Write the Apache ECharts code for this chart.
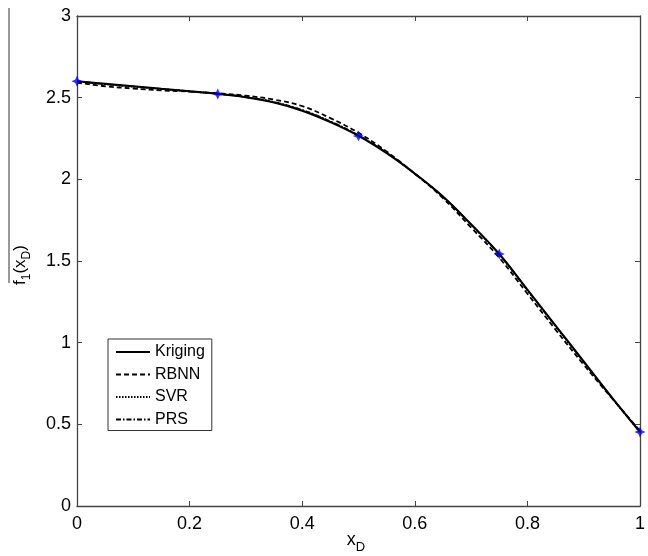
<!DOCTYPE html>
<html>
<head>
<meta charset="utf-8">
<script src="https://cdn.jsdelivr.net/npm/echarts@6/dist/echarts.min.js"></script>
<style>
html,body{margin:0;padding:0;background:#fff;}
#chart{width:648px;height:556px;}
</style>
</head>
<body>
<div id="chart"></div>
<script>
var xs      = [0, 0.05, 0.1, 0.15, 0.2, 0.25, 0.3, 0.35, 0.4, 0.45, 0.5, 0.55, 0.6, 0.65, 0.7, 0.75, 0.8, 0.85, 0.9, 0.95, 1.0];
var kriging = [2.60, 2.585, 2.57, 2.555, 2.54, 2.523, 2.502, 2.47, 2.42, 2.35, 2.266, 2.16, 2.035, 1.895, 1.725, 1.543, 1.325, 1.105, 0.885, 0.665, 0.453];
var rbnn    = [2.592, 2.57, 2.556, 2.545, 2.537, 2.527, 2.512, 2.488, 2.448, 2.375, 2.285, 2.17, 2.035, 1.885, 1.705, 1.52, 1.30, 1.08, 0.865, 0.66, 0.46];
var svr     = [2.60, 2.582, 2.567, 2.553, 2.538, 2.523, 2.503, 2.472, 2.424, 2.354, 2.268, 2.162, 2.034, 1.892, 1.722, 1.54, 1.32, 1.10, 0.88, 0.662, 0.453];
var prs     = [2.60, 2.583, 2.568, 2.554, 2.539, 2.524, 2.504, 2.473, 2.425, 2.355, 2.27, 2.163, 2.035, 1.893, 1.722, 1.54, 1.322, 1.102, 0.882, 0.663, 0.453];
var sampleX = [0, 0.25, 0.5, 0.75, 1.0];
var sampleY = [2.60, 2.523, 2.266, 1.543, 0.453];
var xTicks  = [0, 0.2, 0.4, 0.6, 0.8, 1];
var yTicks  = [0, 0.5, 1, 1.5, 2, 2.5, 3];

function pairs(x, y){ return x.map(function(v,i){ return [v, y[i]]; }); }

var FONT = 'Liberation Sans, Arial, sans-serif';
var axisCol = '#444';

var chart = echarts.init(document.getElementById('chart'), null, {renderer:'canvas'});
var baseAxis = {
  axisLine:{show:true, onZero:false, lineStyle:{color:axisCol, width:1.3}},
  axisTick:{show:true, inside:true, length:5, lineStyle:{color:axisCol, width:1}},
  splitLine:{show:false}
};
chart.setOption({
  animation:false,
  backgroundColor:'#fff',
  color:['#000','#000','#000','#000'],
  grid:{left:77, right:3, top:16, bottom:50, containLabel:false},
  xAxis:[
    Object.assign({type:'value', min:0, max:1, interval:0.2, position:'bottom',
      axisLabel:{color:'#000', fontSize:18, fontFamily:FONT, margin:9,
        formatter:function(v){ return String(+v.toFixed(1)); }}}, baseAxis),
    Object.assign({type:'value', min:0, max:1, interval:0.2, position:'top',
      axisLabel:{show:false}}, baseAxis)
  ],
  yAxis:[
    Object.assign({type:'value', min:0, max:3, interval:0.5, position:'left',
      axisLabel:{color:'#000', fontSize:18, fontFamily:FONT, margin:6}}, baseAxis),
    Object.assign({type:'value', min:0, max:3, interval:0.5, position:'right',
      axisLabel:{show:false}}, baseAxis)
  ],
  legend:{
    data:['Kriging','RBNN','SVR','PRS'],
    orient:'vertical', left:108, top:339,
    backgroundColor:'#fff', borderColor:'#333', borderWidth:1, borderRadius:0,
    padding:[5,7,3,7], itemGap:6.5, itemWidth:34, itemHeight:16,
    itemStyle:{opacity:0},
    textStyle:{color:'#000', fontSize:16, fontFamily:FONT}
  },
  series:[
    {name:'Kriging', type:'line', smooth:0.4, showSymbol:false, symbol:'none',
     data:pairs(xs,kriging), itemStyle:{color:'#000'}, lineStyle:{color:'#000', width:2, type:'solid'}, z:5},
    {name:'RBNN', type:'line', smooth:0.4, showSymbol:false, symbol:'none',
     data:pairs(xs,rbnn), itemStyle:{color:'#000'}, lineStyle:{color:'#000', width:1.8, type:[5,3]}, z:4},
    {name:'SVR', type:'line', smooth:0.4, showSymbol:false, symbol:'none',
     data:pairs(xs,svr), itemStyle:{color:'#000'}, lineStyle:{color:'#000', width:1.6, type:[1.5,1.5]}, z:3},
    {name:'PRS', type:'line', smooth:0.4, showSymbol:false, symbol:'none',
     data:pairs(xs,prs), itemStyle:{color:'#000'}, lineStyle:{color:'#000', width:1.6, type:[5,2,1.5,2]}, z:3},
    {name:'samples', type:'scatter', data:pairs(sampleX,sampleY), clip:false,
     symbol:'path://M0,-5 L1.6,-1.6 L5,0 L1.6,1.6 L0,5 L-1.6,1.6 L-5,0 L-1.6,-1.6 Z',
     symbolSize:11, itemStyle:{color:'#0000ff'}, z:10}
  ],
  graphic:[
    {type:'line', shape:{x1:9, y1:8, x2:9, y2:283}, style:{stroke:'#333', lineWidth:1}},
    {type:'text', x:19, y:265, rotation:Math.PI/2, origin:[0,0],
     style:{text:'{a|f}{s|1}{a|(x}{s|D}{a|)}', align:'center', verticalAlign:'middle',
       rich:{a:{fontSize:17, fontFamily:FONT, fill:'#000', verticalAlign:'bottom', lineHeight:20},
             s:{fontSize:12, fontFamily:FONT, fill:'#000', verticalAlign:'bottom', padding:[0,0,-4,0], lineHeight:20}}}},
    {type:'text', x:356, y:539,
     style:{text:'{a|x}{s|D}', align:'center', verticalAlign:'middle',
       rich:{a:{fontSize:18, fontFamily:FONT, fill:'#000', verticalAlign:'bottom', lineHeight:20},
             s:{fontSize:13, fontFamily:FONT, fill:'#000', verticalAlign:'bottom', padding:[0,0,-5,0], lineHeight:20}}}}
  ]
});
</script>
</body>
</html>
